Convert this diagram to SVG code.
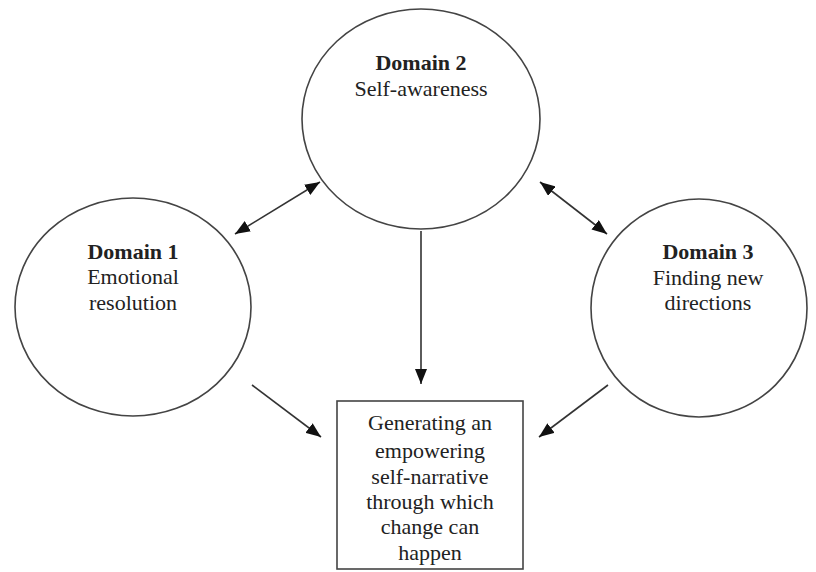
<svg xmlns="http://www.w3.org/2000/svg" width="816" height="572" viewBox="0 0 816 572">
<style>
.node{fill:#fff;stroke:#444;stroke-width:1.6}
.t{font-family:'Liberation Serif','DejaVu Serif',serif;font-size:22px;fill:#222;text-anchor:middle}
.b{font-weight:bold}
.c{stroke:#333;stroke-width:1.6;fill:none}
</style>
<defs>
<marker id="ah" markerUnits="userSpaceOnUse" markerWidth="16" markerHeight="12" refX="15" refY="6" orient="auto-start-reverse">
<path d="M0,0 L15,6 L0,12 Z" fill="#111"/>
</marker>
</defs>
<rect width="816" height="572" fill="#fff"/>
<g id="domain2">
<ellipse class="node" cx="421" cy="119" rx="119" ry="110"/>
<text class="t b" x="421" y="70">Domain 2</text>
<text class="t" x="421" y="96">Self-awareness</text>
</g>
<g id="domain1">
<ellipse class="node" cx="133" cy="307" rx="118" ry="109"/>
<text class="t b" x="133" y="259">Domain 1</text>
<text class="t" x="133" y="284">Emotional</text>
<text class="t" x="133" y="310">resolution</text>
</g>
<g id="domain3">
<ellipse class="node" cx="699" cy="308" rx="108" ry="109"/>
<text class="t b" x="708" y="259">Domain 3</text>
<text class="t" x="708" y="285">Finding new</text>
<text class="t" x="708" y="310">directions</text>
</g>
<g id="outcome">
<rect class="node" x="337" y="401" width="186" height="168"/>
<text class="t" x="430" y="430">Generating an</text>
<text class="t" x="430" y="458">empowering</text>
<text class="t" x="430" y="484">self-narrative</text>
<text class="t" x="430" y="509">through which</text>
<text class="t" x="430" y="534">change can</text>
<text class="t" x="430" y="560">happen</text>
</g>
<g id="connectors">
<line class="c" x1="235" y1="234" x2="320" y2="182" marker-start="url(#ah)" marker-end="url(#ah)"/>
<line class="c" x1="540" y1="182" x2="607" y2="234" marker-start="url(#ah)" marker-end="url(#ah)"/>
<line class="c" x1="421" y1="231" x2="421" y2="384" marker-end="url(#ah)"/>
<line class="c" x1="252" y1="385" x2="321" y2="437" marker-end="url(#ah)"/>
<line class="c" x1="608" y1="385" x2="539" y2="437" marker-end="url(#ah)"/>
</g>
</svg>
